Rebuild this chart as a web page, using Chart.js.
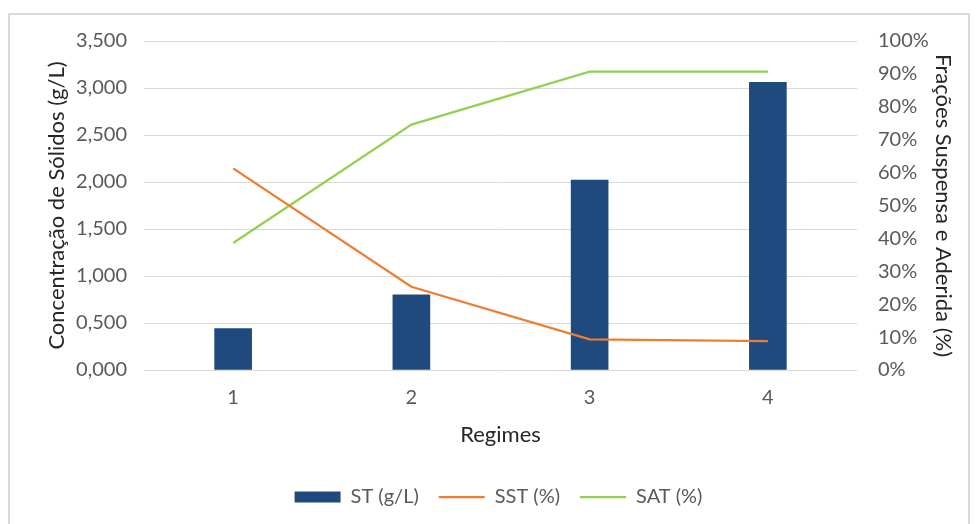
<!DOCTYPE html>
<html>
<head>
<meta charset="utf-8">
<script src="https://cdn.jsdelivr.net/npm/chart.js@4.4.1/dist/chart.umd.min.js"></script>
<style>
  html, body { margin: 0; padding: 0; background: #ffffff; }
  #wrap { position: relative; width: 978px; height: 524px; overflow: hidden; }
  #frame { position: absolute; left: 8px; top: 13px; width: 962px; height: 540px;
           border: 2px solid #d9d9d9; box-sizing: border-box; }
  canvas { position: absolute; left: 0; top: 0; }
</style>
</head>
<body>
<div id="wrap">
  <div id="frame"></div>
  <canvas id="c" width="978" height="524"></canvas>
</div>
<script>
// Regimes on the category axis
const regimes = ['1', '2', '3', '4'];
// Total solids concentration (g/L), left axis
const stValues = [0.44, 0.80, 2.02, 3.06];
// Suspended and attached fractions (%), right axis
const sstValues = [61.3, 25.3, 9.3, 8.8];
const satValues = [38.6, 74.6, 90.7, 90.7];
// Axis ranges and steps
const leftMax = 3.5, leftStep = 0.5;
const rightMax = 100, rightStep = 10;

const family = 'Lato, "Noto Sans", sans-serif';
const textColor = '#595959';
const titleColor = '#262626';
const gridColor = '#d9d9d9';

new Chart(document.getElementById('c'), {
  type: 'bar',
  data: {
    labels: regimes,
    datasets: [
      {
        type: 'bar',
        label: 'ST (g/L)',
        data: stValues,
        yAxisID: 'y',
        backgroundColor: '#1F4A7D',
        borderWidth: 0,
        barThickness: 37,
        pointStyle: 'rect',
        order: 1
      },
      {
        type: 'line',
        label: 'SST (%)',
        data: sstValues,
        yAxisID: 'y1',
        borderColor: '#ED7D31',
        backgroundColor: '#ED7D31',
        borderWidth: 2.25,
        pointRadius: 0,
        pointHoverRadius: 0,
        tension: 0,
        pointStyle: 'line',
        order: 0
      },
      {
        type: 'line',
        label: 'SAT (%)',
        data: satValues,
        yAxisID: 'y1',
        borderColor: '#92D050',
        backgroundColor: '#92D050',
        borderWidth: 2.25,
        pointRadius: 0,
        pointHoverRadius: 0,
        tension: 0,
        pointStyle: 'line',
        order: 0
      }
    ]
  },
  options: {
    responsive: false,
    animation: false,
    layout: { padding: { left: 40, right: 21, top: 41, bottom: 7 } },
    plugins: {
      legend: {
        position: 'bottom',
        labels: {
          usePointStyle: true,
          pointStyleWidth: 46,
          boxHeight: 11,
          color: textColor,
          font: { family, size: 20 },
          padding: 20,
          sort: (a, b) => a.datasetIndex - b.datasetIndex
        }
      },
      tooltip: { enabled: false }
    },
    scales: {
      x: {
        grid: { display: false },
        border: { display: false },
        ticks: { color: textColor, font: { family, size: 20 }, padding: 8 },
        title: { display: true, text: 'Regimes', color: titleColor,
                 font: { family, size: 22 }, padding: 19 },
        afterFit(scale) { scale.height = 97; }
      },
      y: {
        position: 'left',
        min: 0,
        max: leftMax,
        ticks: {
          stepSize: leftStep,
          color: textColor,
          font: { family, size: 20 },
          padding: 17,
          callback: v => Number(v).toFixed(3).replace('.', ',')
        },
        grid: { color: gridColor, lineWidth: 1, drawTicks: false },
        border: { display: false },
        title: { display: true, text: 'Concentração de Sólidos (g/L)', color: titleColor,
                 font: { family, size: 22 }, padding: 4 },
        afterFit(scale) { scale.width = 104; }
      },
      y1: {
        position: 'right',
        min: 0,
        max: rightMax,
        ticks: {
          stepSize: rightStep,
          color: textColor,
          font: { family, size: 20 },
          padding: 21,
          callback: v => v + '%'
        },
        grid: { display: false, drawTicks: false },
        border: { display: false },
        title: { display: true, text: 'Frações Suspensa e Aderida (%)', color: titleColor,
                 font: { family, size: 22 }, padding: 1 },
        afterFit(scale) { scale.width = 100; }
      }
    }
  }
});
</script>
</body>
</html>
